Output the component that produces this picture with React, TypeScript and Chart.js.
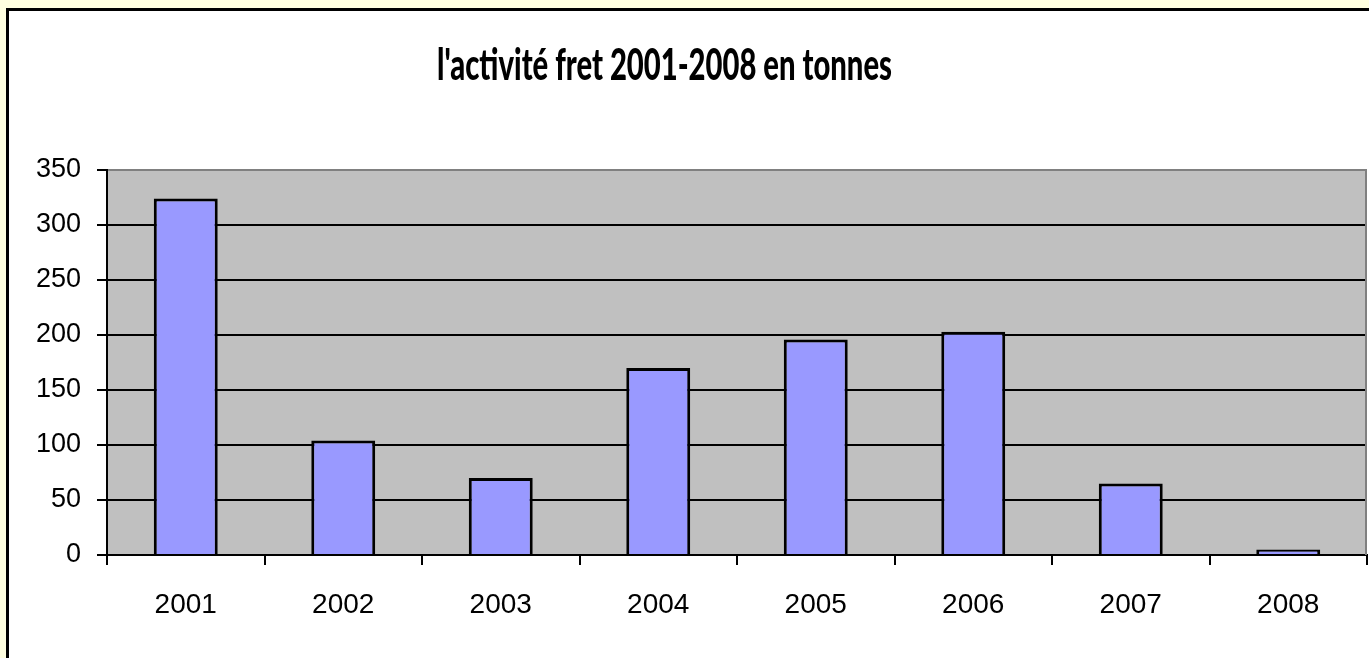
import React, { useEffect, useRef } from "react";
import { Chart, registerables } from "chart.js";

Chart.register(...registerables);

const TITLE = "l'activité fret 2001-2008 en tonnes";
const YEARS = ["2001", "2002", "2003", "2004", "2005", "2006", "2007", "2008"];
const TONNES = [324, 104, 70, 170, 196, 203, 65, 5];
const Y_MIN = 0;
const Y_MAX = 350;
const Y_STEP = 50;

const W = 1369;
const H = 658;

const plotBg = {
  id: "plotBg",
  beforeDraw(chart: any) {
    const { ctx, chartArea } = chart;
    if (!chartArea) return;
    ctx.save();
    ctx.fillStyle = "#C0C0C0";
    ctx.fillRect(chartArea.left, chartArea.top, chartArea.right - chartArea.left, chartArea.bottom - chartArea.top);
    ctx.restore();
  },
  afterDatasetsDraw(chart: any) {
    const { ctx, chartArea } = chart;
    ctx.save();
    ctx.strokeStyle = "#808080";
    ctx.lineWidth = 2;
    ctx.beginPath();
    ctx.moveTo(chartArea.right - 1, chartArea.top);
    ctx.lineTo(chartArea.right - 1, chartArea.bottom);
    ctx.stroke();
    ctx.restore();
  },
};

const condensedTitle = {
  id: "condensedTitle",
  afterDraw(chart: any) {
    const { ctx } = chart;
    ctx.save();
    ctx.font = '900 44px Lato, "Liberation Sans", Arial, sans-serif';
    ctx.fillStyle = "#000";
    ctx.textAlign = "center";
    ctx.textBaseline = "alphabetic";
    const w = ctx.measureText(TITLE).width;
    const sx = 455 / w;
    ctx.translate(664.5, 80);
    ctx.scale(sx, 1);
    ctx.fillText(TITLE, 0, 0);
    ctx.restore();
  },
};

export default function App() {
  const ref = useRef<HTMLCanvasElement | null>(null);

  useEffect(() => {
    if (!ref.current) return;
    const chart = new Chart(ref.current, {
      type: "bar",
      data: {
        labels: YEARS,
        datasets: [
          {
            label: "tonnes",
            data: TONNES,
            backgroundColor: "#9999FF",
            borderColor: "#000000",
            borderWidth: 3,
            barPercentage: 0.406,
            categoryPercentage: 1,
          },
        ],
      },
      options: {
        responsive: false,
        animation: false,
        devicePixelRatio: 1,
        layout: { padding: { left: 0, top: 170, right: 2, bottom: 0 } },
        plugins: {
          legend: { display: false },
          title: { display: false },
          tooltip: { enabled: false },
        },
        scales: {
          x: {
            afterFit: (scale: any) => {
              scale.height = 103;
            },
            grid: {
              display: true,
              drawOnChartArea: false,
              drawTicks: true,
              tickLength: 10,
              tickColor: "#000",
              lineWidth: 2,
              offset: true,
            },
            border: { display: true, color: "#000", width: 2 },
            ticks: {
              color: "#000",
              padding: 23,
              font: { family: '"Liberation Sans", Arial, sans-serif', size: 28 },
            },
          },
          y: {
            min: Y_MIN,
            max: Y_MAX,
            afterFit: (scale: any) => {
              scale.width = 107;
            },
            grid: {
              color: (c: any) => (c.tick && c.tick.value === Y_MAX ? "#808080" : "#000"),
              tickColor: "#000",
              lineWidth: 2,
              tickLength: 10,
              drawTicks: true,
            },
            border: { display: true, color: "#000", width: 2 },
            ticks: {
              stepSize: Y_STEP,
              color: "#000",
              padding: 16,
              font: { family: '"Liberation Sans", Arial, sans-serif', size: 27 },
            },
          },
        },
      },
      plugins: [plotBg, condensedTitle],
    });
    return () => chart.destroy();
  }, []);

  return (
    <div
      style={{
        position: "absolute",
        left: 0,
        top: 0,
        width: W,
        height: H,
        overflow: "hidden",
        background: "#FFFFE0",
      }}
    >
      <div
        style={{
          position: "absolute",
          left: 6,
          top: 8,
          width: 1420,
          height: 700,
          border: "3px solid #000",
          background: "#FFFFFF",
          boxSizing: "border-box",
        }}
      />
      <canvas
        ref={ref}
        width={W}
        height={H}
        style={{ position: "absolute", left: 0, top: 0, width: W, height: H }}
      />
    </div>
  );
}
